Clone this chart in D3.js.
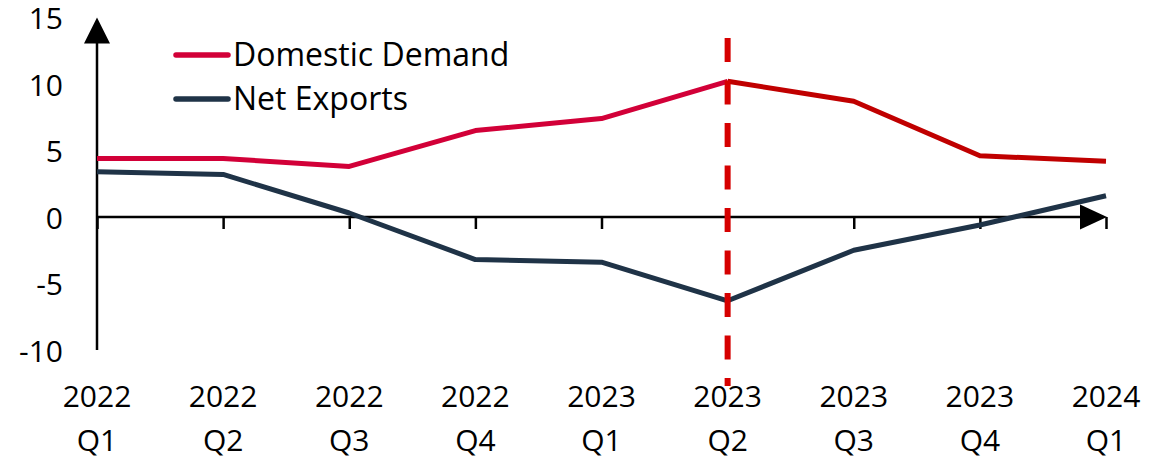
<!DOCTYPE html>
<html>
<head>
<meta charset="utf-8">
<script src="https://cdn.jsdelivr.net/npm/d3@7"></script>
<style>
body { margin: 0; background: #fff; }
text { font-family: "Open Sans", "Noto Sans", sans-serif; fill: #000; }
</style>
</head>
<body>
<div id="chart"></div>
<script>
// quarters on the x axis
const quarters = ["2022 Q1", "2022 Q2", "2022 Q3", "2022 Q4", "2023 Q1", "2023 Q2", "2023 Q3", "2023 Q4", "2024 Q1"];
const domesticDemand = [4.4, 4.4, 3.8, 6.5, 7.4, 10.2, 8.7, 4.6, 4.2];
const netExports = [3.4, 3.2, 0.3, -3.2, -3.4, -6.3, -2.5, -0.6, 1.6];
const yTicks = [-10, -5, 0, 5, 10, 15];
const markerQuarter = "2023 Q2";

const width = 1176;
const height = 463;

const svg = d3.select("#chart")
      .append("svg")
      .attr("width", width)
      .attr("height", height);

const x = d3.scalePoint().domain(quarters).range([97, 1106]);
const y = d3.scaleLinear().domain([-10, 15]).range([350, 17.5]);

// y axis: labels only, line drawn by hand with arrow
const yAxis = svg.append("g")
    .attr("transform", "translate(97,0)")
    .call(d3.axisLeft(y).tickValues(yTicks).tickSize(0).tickPadding(34).tickFormat(d => String(d)));
yAxis.select(".domain").remove();
yAxis.selectAll("text")
    .attr("font-size", 30)
    .attr("dy", "0.38em")
    .style("font-family", "'Open Sans', sans-serif");

svg.append("line")
    .attr("x1", 97).attr("x2", 97)
    .attr("y1", y(-10)).attr("y2", y(15) + 20)
    .attr("stroke", "#000").attr("stroke-width", 2.5);
svg.append("path")
    .attr("d", `M97,${y(15)} L84,${y(15) + 26} L110,${y(15) + 26} Z`)
    .attr("fill", "#000");

// x axis at zero
const xAxis = svg.append("g")
    .attr("transform", `translate(0,${y(0)})`)
    .call(d3.axisBottom(x).tickSize(12).tickSizeOuter(0).tickFormat(""));
xAxis.select(".domain").remove();
xAxis.selectAll(".tick line").attr("stroke", "#000").attr("stroke-width", 2.5);

svg.append("line")
    .attr("x1", 97).attr("x2", 1090)
    .attr("y1", y(0)).attr("y2", y(0))
    .attr("stroke", "#000").attr("stroke-width", 2.5);
svg.append("path")
    .attr("d", `M1107,${y(0)} L1080,${y(0) - 12.5} L1080,${y(0) + 12.5} Z`)
    .attr("fill", "#000");

// two-line category labels
const xLabels = svg.append("g")
    .selectAll("text")
    .data(quarters)
    .enter().append("text")
    .attr("x", d => x(d))
    .attr("text-anchor", "middle")
    .attr("font-size", 30);
xLabels.append("tspan").attr("x", d => x(d)).attr("y", 407).text(d => d.split(" ")[0]);
xLabels.append("tspan").attr("x", d => x(d)).attr("y", 451).text(d => d.split(" ")[1]);

const line = d3.line()
    .x(d => x(d.q))
    .y(d => y(d.v));

const dd = quarters.map((q, i) => ({q: q, v: domesticDemand[i]}));
const ne = quarters.map((q, i) => ({q: q, v: netExports[i]}));
const split = quarters.indexOf(markerQuarter);

svg.append("path")
    .datum(ne)
    .attr("d", line)
    .attr("fill", "none")
    .attr("stroke", "#1f3347")
    .attr("stroke-width", 5)
    .attr("stroke-linejoin", "round");

svg.append("path")
    .datum(dd.slice(split))
    .attr("d", line)
    .attr("fill", "none")
    .attr("stroke", "#c00000")
    .attr("stroke-width", 5)
    .attr("stroke-linejoin", "round");

svg.append("path")
    .datum(dd.slice(0, split + 1))
    .attr("d", line)
    .attr("fill", "none")
    .attr("stroke", "#d20038")
    .attr("stroke-width", 5)
    .attr("stroke-linejoin", "round");

// dashed marker
svg.append("line")
    .attr("x1", x(markerQuarter)).attr("x2", x(markerQuarter))
    .attr("y1", 38).attr("y2", 386)
    .attr("stroke", "#d60000")
    .attr("stroke-width", 6)
    .attr("stroke-dasharray", "24,18.5");

// legend
const legendItems = [
    {name: "Domestic Demand", color: "#d20038"},
    {name: "Net Exports", color: "#1f3347"}
];
const legend = svg.append("g")
    .selectAll("g")
    .data(legendItems)
    .enter().append("g")
    .attr("transform", (d, i) => `translate(0,${55 + i * 44})`);
legend.append("line")
    .attr("x1", 176).attr("x2", 228)
    .attr("stroke", d => d.color)
    .attr("stroke-width", 5.5)
    .attr("stroke-linecap", "round");
legend.append("text")
    .attr("x", 233)
    .attr("y", 10.5)
    .attr("font-size", 32)
    .text(d => d.name);
</script>
</body>
</html>
